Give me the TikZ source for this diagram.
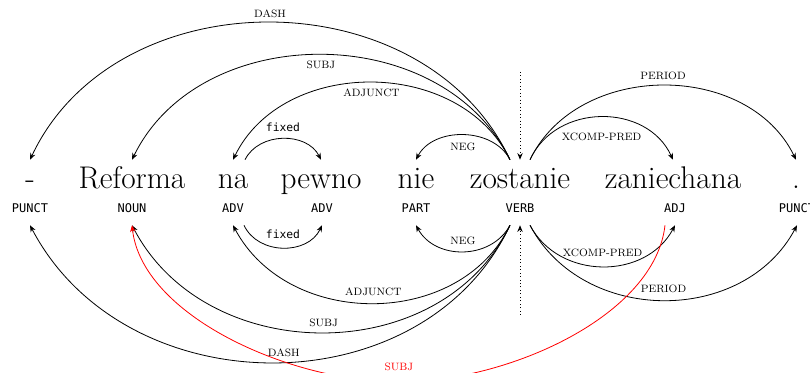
\documentclass[tikz,border=0pt]{standalone}
\usepackage{fontspec}
\newfontfamily\tagfont{DejaVu Sans Mono}
\usetikzlibrary{arrows.meta,calc}

\begin{document}
\begin{tikzpicture}[x=0.75pt,y=-0.75pt,
  word/.style={inner sep=0pt,anchor=base,font=\fontsize{23.5}{23.5}\selectfont,text height=21.75pt},
  tag/.style={inner sep=0pt,anchor=base,font=\tagfont\fontsize{9}{9}\selectfont,text depth=9pt},
  dep/.style={-{Stealth[length=5pt,width=4pt]},line width=0.6pt},
  lab/.style={font=\fontsize{8}{8}\selectfont,inner sep=1pt},
  fixlab/.style={font=\tagfont\fontsize{8.5}{8.5}\selectfont,inner sep=1pt},
  root/.style={-{Stealth[length=5pt,width=4pt]},line width=0.6pt,dotted}]
      \useasboundingbox (0,0) rectangle (810,373);
      \clip (0,0) rectangle (810,373);
      % words
      \node[word] (w1) at (30,189) {-};
      \node[word] (w2) at (132,189) {Reforma};
      \node[word] (w3) at (233,189) {na};
      \node[word] (w4) at (321,189) {pewno};
      \node[word] (w5) at (416,189) {nie};
      \node[word] (w6) at (520,189) {zostanie};
      \node[word] (w7) at (673,189) {zaniechana};
      \node[word] (w8) at (796,189) {.};
      % tags
      \node[tag] (t1) at (30,213) {PUNCT};
      \node[tag] (t2) at (132,213) {NOUN};
      \node[tag] (t3) at (233,213) {ADV};
      \node[tag] (t4) at (322,213) {ADV};
      \node[tag] (t5) at (416,213) {PART};
      \node[tag] (t6) at (520,213) {VERB};
      \node[tag] (t7) at (675,213) {ADJ};
      \node[tag] (t8) at (797,213) {PUNCT};
      % arcs above the words
      \draw[dep] ([xshift=-7.5pt]w6.north) .. controls +(-86,-183) and +(86,-183) .. (w1.north) node[lab,midway,yshift=6.75pt] (aDash) {DASH};
      \draw[dep] ([xshift=-7.5pt]w6.north) .. controls +(-68,-140) and +(68,-140) .. (w2.north) node[lab,midway,yshift=-7.5pt] (aSubj) {SUBJ};
      \draw[dep] ([xshift=-7.5pt]w6.north) .. controls +(-50,-103) and +(50,-103) .. (w3.north) node[lab,midway,yshift=-7.5pt] (aAdjunct) {ADJUNCT};
      \draw[dep] ([xshift=-7.5pt]w6.north) .. controls +(-17,-33) and +(17,-33) .. (w5.north) node[lab,midway,yshift=-9pt] (aNeg) {NEG};
      \draw[dep] ([xshift=9pt]w3.north) .. controls +(14,-28) and +(-14,-28) .. (w4.north) node[fixlab,midway,yshift=8.25pt] (aFixed) {fixed};
      \draw[dep] ([xshift=7.5pt]w6.north) .. controls +(26,-57) and +(-26,-57) .. (w7.north) node[lab,midway,yshift=-15pt] (aXcomp) {XCOMP-PRED};
      \draw[dep] ([xshift=7.5pt]w6.north) .. controls +(48,-99) and +(-48,-99) .. (w8.north) node[lab,midway,yshift=7.5pt] (aPeriod) {PERIOD};
      \coordinate (rootA) at (520,72);
      \draw[root] (rootA) -- (w6.north);
      % arcs below the tags
      \draw[dep] ([xshift=-7.5pt]t6.south) .. controls +(-19,35) and +(19,35) .. (t5.south) node[lab,midway,yshift=8.25pt] (bNeg) {NEG};
      \draw[dep] ([xshift=8.25pt]t3.south) .. controls +(14,30) and +(-14,30) .. (t4.south) node[fixlab,midway,yshift=9.75pt] (bFixed) {fixed};
      \draw[dep] ([xshift=-7.5pt]t6.south) .. controls +(-50,104) and +(55,104) .. (t3.south) node[lab,midway,yshift=8.25pt] (bAdjunct) {ADJUNCT};
      \draw[dep] ([xshift=-7.5pt]t6.south) .. controls +(-68,143) and +(75,143) .. (t2.south) node[lab,midway,yshift=7.5pt] (bSubj) {SUBJ};
      \draw[dep] ([xshift=-7.5pt]t6.south) .. controls +(-86,183) and +(96,183) .. (t1.south) node[lab,midway,yshift=7.5pt,xshift=7.5pt] (bDash) {DASH};
      \draw[dep] ([xshift=7.5pt]t6.south) .. controls +(29,55) and +(-29,55) .. (t7.south) node[lab,midway,yshift=10.5pt] (bXcomp) {XCOMP-PRED};
      \draw[dep] ([xshift=7.5pt]t6.south) .. controls +(53,100) and +(-53,100) .. (t8.south) node[lab,midway,yshift=8.25pt] (bPeriod) {PERIOD};
      \coordinate (redLow) at (399,382);
      \draw[dep,red] ([xshift=-7.5pt]t7.south) .. controls +(-10,90) and +(110,0) .. (redLow) node[lab,yshift=11.25pt] (bSubjRed) {SUBJ} .. controls +(-110,0) and +(10,90) .. (t2.south);
      \coordinate (rootB) at (520,315);
      \draw[root] (rootB) -- (t6.south);
\end{tikzpicture}
\end{document}
